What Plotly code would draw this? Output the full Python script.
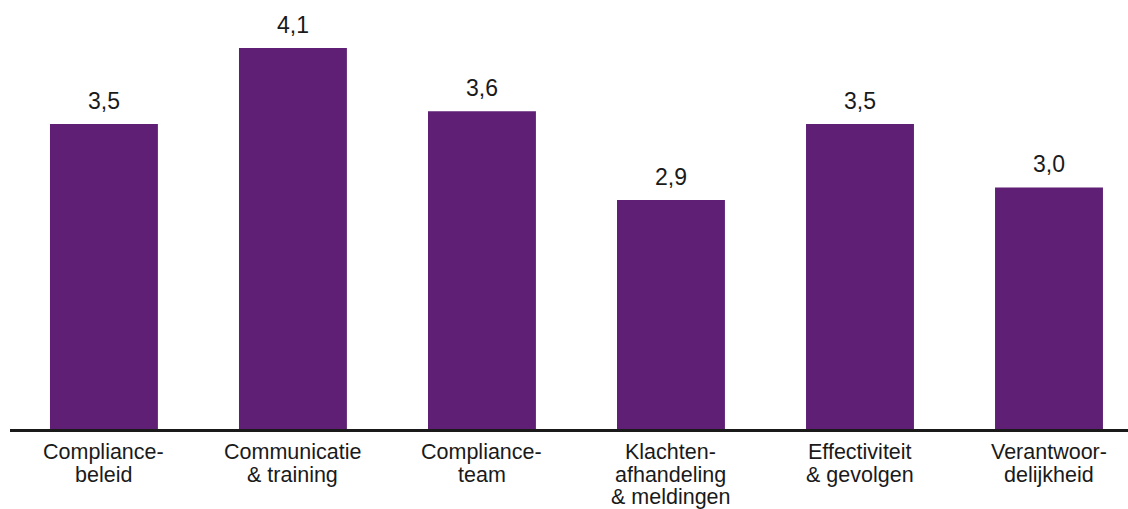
import plotly.graph_objects as go

categories = ["Compliance-beleid", "Communicatie & training", "Compliance-team",
              "Klachten-afhandeling & meldingen", "Effectiviteit & gevolgen", "Verantwoor-delijkheid"]
label_lines = [
    ["Compliance-", "beleid"],
    ["Communicatie", "& training"],
    ["Compliance-", "team"],
    ["Klachten-", "afhandeling", "& meldingen"],
    ["Effectiviteit", "& gevolgen"],
    ["Verantwoor-", "delijkheid"],
]
values = [3.5, 4.1, 3.6, 2.9, 3.5, 3.0]
value_labels = ["3,5", "4,1", "3,6", "2,9", "3,5", "3,0"]

FONT = "Arial, Liberation Sans, sans-serif"
x = list(range(len(categories)))

fig = go.Figure()
fig.add_trace(go.Bar(
    x=x, y=values, width=0.571,
    marker=dict(color="#5E1F75", line=dict(width=0)),
    hoverinfo="skip",
))

annotations = []
for i, (v, t) in enumerate(zip(values, value_labels)):
    annotations.append(dict(x=i, y=v, xref="x", yref="y", text=t, showarrow=False,
                            yanchor="bottom", yshift=8,
                            font=dict(family=FONT, size=23, color="#1a1a1a")))
for i, lines in enumerate(label_lines):
    for j, line in enumerate(lines):
        annotations.append(dict(x=i, y=0, xref="x", yref="paper", text=line, showarrow=False,
                                yanchor="top", yshift=-9 - 22.5 * j,
                                font=dict(family=FONT, size=21.5, color="#1a1a1a")))

fig.update_layout(
    width=1128, height=509,
    margin=dict(l=10, r=0, t=0, b=80),
    paper_bgcolor="white", plot_bgcolor="white",
    showlegend=False,
    annotations=annotations,
    xaxis=dict(range=[-0.497, 5.418], showticklabels=False, ticks="", showgrid=False,
               zeroline=False, showline=True, linecolor="#1a1a1a", linewidth=3),
    yaxis=dict(range=[1.093, 4.479], visible=False, showgrid=False, zeroline=False),
)

fig.write_html("out.html")
